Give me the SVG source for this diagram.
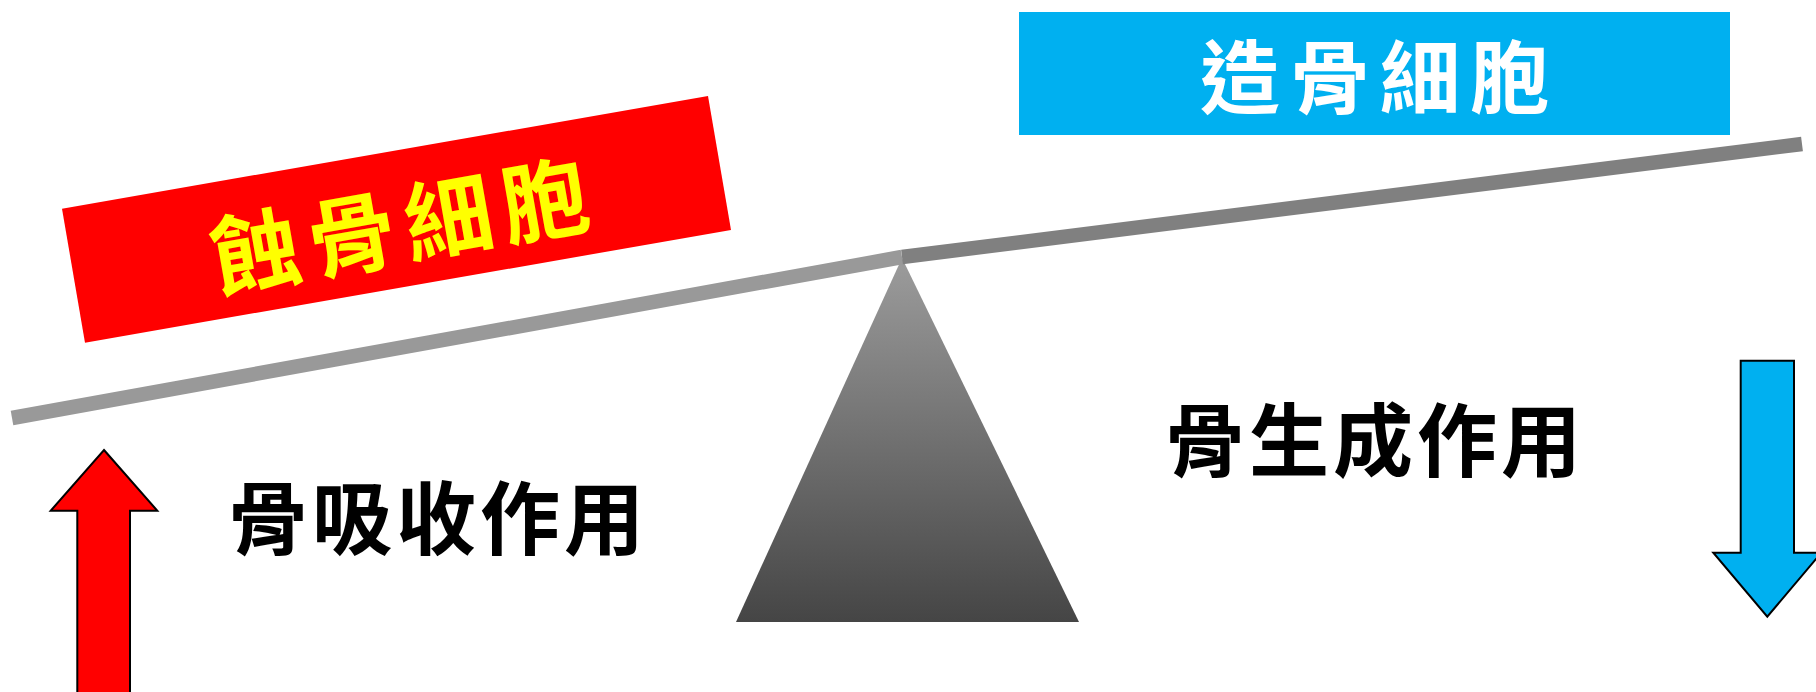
<svg xmlns="http://www.w3.org/2000/svg" width="1816" height="692" viewBox="0 0 1816 692">
  <style>
    .lbl { font-family: "Noto Sans CJK TC", "Noto Sans CJK JP", sans-serif; font-weight: bold; text-anchor: middle; }
    .arrow { stroke: #000000; stroke-width: 2; stroke-linejoin: miter; }
  </style>
  <defs>
    <linearGradient id="fulcrumGrad" x1="0" y1="0" x2="0" y2="1">
      <stop offset="0" stop-color="#9c9c9c"/>
      <stop offset="1" stop-color="#454545"/>
    </linearGradient>
  </defs>
  <rect width="1816" height="692" fill="#ffffff"/>

  <g id="fulcrum">
    <polygon points="902,258 736,622 1079,622" fill="url(#fulcrumGrad)"/>
  </g>

  <g id="beam">
    <line x1="12" y1="418" x2="902" y2="257" stroke="#999999" stroke-width="14.5"/>
    <line x1="902" y1="257" x2="1802" y2="144" stroke="#808080" stroke-width="14.5"/>
  </g>

  <g id="osteoclast">
    <polygon points="62,208.7 708,96 731,230 85,342.7" fill="#ff0000"/>
    <text class="lbl" x="405" y="259" font-size="88" letter-spacing="10" fill="#ffff00" transform="rotate(-10 400 226)">蝕骨細胞</text>
  </g>

  <g id="osteoblast">
    <rect x="1019" y="12" width="711" height="123" fill="#00b0f0"/>
    <text class="lbl" x="1380" y="107" font-size="80" letter-spacing="10" fill="#ffffff">造骨細胞</text>
  </g>

  <g id="resorption">
    <text class="lbl" x="438" y="548" font-size="80" letter-spacing="4" fill="#000000">骨吸收作用</text>
  </g>

  <g id="formation">
    <text class="lbl" x="1375" y="470" font-size="80" letter-spacing="4" fill="#000000">骨生成作用</text>
  </g>

  <g id="connectors">
    <polygon class="arrow" points="104,450 157.3,510.7 130,510.7 130,700 77.3,700 77.3,510.7 50.7,510.7" fill="#ff0000"/>
    <polygon class="arrow" points="1740.7,360.7 1794,360.7 1794,552.7 1821.3,552.7 1767.3,616.7 1713.3,552.7 1740.7,552.7" fill="#00b0f0"/>
  </g>
</svg>
